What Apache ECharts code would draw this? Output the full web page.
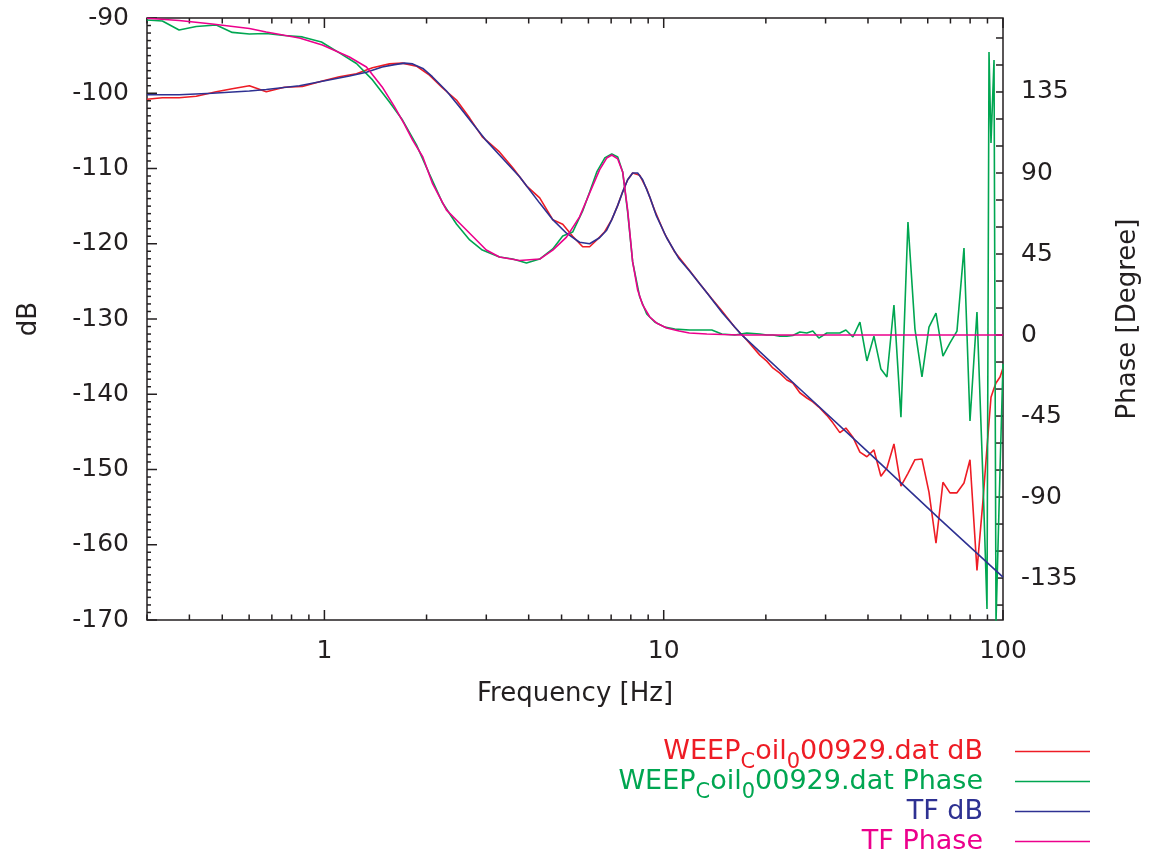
<!DOCTYPE html>
<html>
<head>
<meta charset="utf-8">
<script src="https://cdn.jsdelivr.net/npm/echarts@6/dist/echarts.min.js"></script>
<style>html,body{margin:0;padding:0;background:#fff}#c{width:1149px;height:856px}</style>
</head>
<body>
<div id="c"></div>
<script>
// ---- data ----
const measFreq = [0.3,0.333,0.373,0.419,0.48,0.535,0.601,0.674,0.762,0.861,
  0.98,1.107,1.243,1.386,1.555,1.699,1.868,2.04,2.23,2.45,
  2.68,2.92,3.28,3.59,3.94,4.31,4.71,5.04,5.39,5.77,
  6.05,6.35,6.7,7.03,7.32,7.57,7.83,8.1,8.5,8.91,
  9.41,10.07,10.78,11.93,12.77,13.86,14.83,16.2,17.57,19.2,
  20.13,20.97,21.99,23.07,24.02,25.19,26.42,27.51,28.66,30.26,
  31.52,33.05,34.43,36.11,37.87,39.71,41.65,43.67,45.49,47.71,
  50.03,52.47,55.02,57.7,60.51,63.46,66.53,69.78,73.17,76.74,
  79.93,83.81,87.3,89.71,90.94,92.18,94.09,95.37,98.0,100];
const measDb = [-100.8,-100.6,-100.6,-100.4,-99.8,-99.4,-99.0,-99.8,-99.2,-99.1,
  -98.4,-97.8,-97.4,-96.6,-96.1,-96.0,-96.4,-97.6,-99.3,-100.9,
  -103.3,-105.8,-107.8,-109.9,-112.3,-113.9,-116.8,-117.4,-119.0,-120.4,
  -120.4,-119.5,-118.4,-116.8,-114.9,-113.1,-111.5,-110.6,-110.9,-112.7,
  -115.6,-118.7,-121.1,-123.6,-125.3,-127.3,-128.9,-131.1,-132.8,-134.8,
  -135.6,-136.5,-137.2,-138.1,-138.5,-139.8,-140.5,-141.0,-141.7,-142.8,
  -143.8,-145.1,-144.5,-145.7,-147.7,-148.3,-147.4,-150.9,-149.8,-146.6,
  -152.2,-150.5,-148.7,-148.6,-153.0,-159.8,-151.7,-153.1,-153.1,-151.8,
  -148.7,-163.4,-154.1,-147.1,-143.7,-140.4,-139.2,-138.5,-137.7,-136.5];
const measPhase = [175.0,174.4,169.4,171.4,172.2,168.1,167.2,167.5,166.4,165.6,
  162.8,156.7,150.8,141.7,129.4,119.4,105.6,89.4,73.3,61.7,
  52.8,47.2,43.3,42.2,40.0,42.2,47.8,55.0,57.2,68.9,
  79.4,90.6,98.3,100.6,98.9,90.6,68.3,40.6,21.1,11.7,
  7.2,4.4,3.3,2.8,2.8,2.8,0.6,0.0,1.1,0.6,
  0.0,0.0,-0.6,-0.6,-0.3,1.7,1.1,2.2,-1.7,1.1,
  1.1,1.1,2.8,-1.1,7.2,-14.4,-0.6,-18.9,-23.3,16.7,
  -45.6,62.8,3.3,-23.3,4.4,12.2,-11.7,-4.4,2.2,48.3,
  -47.8,12.8,-80.6,-152.2,157.2,106.7,152.8,-159.4,-75.0,-16.1];

const tfFreq = [0.3,0.373,0.467,0.601,0.674,0.844,0.986,1.185,1.33,1.48,
  1.61,1.72,1.82,1.95,2.08,2.29,2.5,2.73,3.0,3.28,
  3.76,4.31,4.71,5.17,5.65,6.05,6.47,6.79,7.03,7.32,
  7.57,7.83,8.1,8.38,8.67,9.1,9.52,10.2,11.1,11.9,
  13.4,14.9,16.8,25.2,40.5,65.1,100];
const tfDb = [-100.2,-100.2,-100.0,-99.7,-99.5,-99.0,-98.4,-97.7,-97.2,-96.5,
  -96.2,-96.0,-96.1,-96.7,-97.8,-99.7,-101.8,-104.0,-106.3,-108.2,
  -111.1,-114.6,-116.8,-118.6,-119.8,-120.0,-119.2,-118.2,-116.8,-114.9,
  -113.1,-111.5,-110.6,-110.6,-111.5,-113.8,-116.3,-119.2,-122.0,-123.6,
  -126.5,-129.2,-131.9,-139.3,-147.9,-156.6,-164.3];
const tfPhase = [176.0,174.7,172.8,170.3,168.3,165.0,161.1,154.4,148.9,137.8,
  126.7,117.2,108.3,98.9,84.4,69.4,62.2,55.0,47.2,43.3,
  41.4,42.2,47.2,54.4,65.6,78.9,91.7,98.3,100.0,97.8,
  90.6,69.4,40.6,25.0,16.7,10.0,6.7,3.9,2.2,1.1,
  0.6,0.3,0.0,0.0,0.0,0.0,0.0];

const seriesNames = ['WEEP_Coil_000929.dat dB','WEEP_Coil_000929.dat Phase','TF dB','TF Phase'];
const seriesColors = ['#ee1c25','#00a651','#2e3192','#ec008c'];

const xMajorTicks = [1,10,100];
const xMinorTicks = [0.3,0.4,0.5,0.6,0.7,0.8,0.9,2,3,4,5,6,7,8,9,20,30,40,50,60,70,80,90];
const xTickLabels = [1,10,100];
const dbMajorTicks = [-170,-160,-150,-140,-130,-120,-110,-100,-90];
const phaseTicks = [-150,-135,-120,-105,-90,-75,-60,-45,-30,-15,0,15,30,45,60,75,90,105,120,135,150,165];
const phaseTickLabels = [-135,-90,-45,0,45,90,135];

// ---- chart ----
const INK = '#231f20';
const FONT = 'DejaVu Sans';
const X_MIN = 0.3, X_MAX = 100;
const DB_MIN = -170, DB_MAX = -90;
const PH_MIN = -158.3, PH_MAX = 176.1;
const pairs = (xs, ys) => xs.map((x, i) => [x, ys[i]]);

// one-dB minor ticks between the labelled ones
const dbMinorTicks = [];
for (let v = DB_MIN; v <= DB_MAX; v++) if (dbMajorTicks.indexOf(v) < 0) dbMinorTicks.push(v);

const SUB = { fontSize: 21, fontFamily: FONT, lineHeight: 30, padding: [22, 0, 0, 0] };
const rich = {};
seriesColors.forEach((c, i) => {
  rich['t' + i] = { color: c, fontSize: 27, fontFamily: FONT, lineHeight: 30 };
  rich['s' + i] = Object.assign({ color: c }, SUB);
  rich['g' + i] = Object.assign({ color: c, width: 27 }, SUB);
});
function legendFmt(name) {
  const i = seriesNames.indexOf(name);
  const parts = name.split('_');
  let out = '{t' + i + '|' + parts[0] + '}';
  for (let k = 1; k < parts.length; k++) {
    out += '{s' + i + '|' + parts[k].charAt(0) + '}';
    if (parts[k].length > 1) out += '{t' + i + '|' + parts[k].slice(1) + '}';
  }
  return out + '{g' + i + '| }';
}

// gnuplot-style inner ticks, placed through the axes' own scales
const TICK_STYLE = { stroke: INK, lineWidth: 1.5 };
const seg = (x1, y1, x2, y2) => ({ type: 'line', shape: { x1, y1, x2, y2 }, style: TICK_STYLE, silent: true });
function xTickItem(params, api) {
  const x = api.value(0), len = api.value(2);
  const b = api.coord([x, DB_MIN]), t = api.coord([x, DB_MAX]);
  return { type: 'group', children: [seg(b[0], b[1], b[0], b[1] - len), seg(t[0], t[1], t[0], t[1] + len)] };
}
function leftTickItem(params, api) {
  const len = api.value(2);
  const p = api.coord([X_MIN, api.value(1)]);
  return seg(p[0], p[1], p[0] + len, p[1]);
}
function rightTickItem(params, api) {
  const len = api.value(2);
  const p = api.coord([X_MAX, api.value(1)]);
  return seg(p[0] - len, p[1], p[0], p[1]);
}
const tickSeries = (name, yIdx, data, fn) => ({
  name: name, type: 'custom', xAxisIndex: 0, yAxisIndex: yIdx, clip: false, silent: true, z: 3,
  renderItem: fn, data: data, tooltip: { show: false }
});

const chart = echarts.init(document.getElementById('c'), null, { renderer: 'canvas' });
chart.setOption({
  animation: false,
  backgroundColor: '#ffffff',
  grid: { left: 147, right: 146, top: 18, bottom: 236, show: true, borderColor: INK, borderWidth: 1.5, backgroundColor: 'transparent' },
  xAxis: [{
    type: 'log', logBase: 10, min: X_MIN, max: X_MAX, position: 'bottom',
    axisLine: { show: false, onZero: false }, splitLine: { show: false },
    axisTick: { show: false },
    axisLabel: { show: true, customValues: xTickLabels, margin: 19, fontSize: 25, fontFamily: FONT, color: INK },
    name: 'Frequency [Hz]', nameLocation: 'middle', nameGap: 61,
    nameTextStyle: { fontSize: 26, fontFamily: FONT, color: INK }
  }],
  yAxis: [
    {
      type: 'value', min: DB_MIN, max: DB_MAX, interval: 10, position: 'left',
      axisLine: { show: false, onZero: false }, splitLine: { show: false },
      axisTick: { show: false },
      axisLabel: { margin: 18, fontSize: 25, fontFamily: FONT, color: INK },
      name: 'dB', nameLocation: 'middle', nameRotate: 90, nameGap: 105,
      nameTextStyle: { fontSize: 26, fontFamily: FONT, color: INK }
    },
    {
      type: 'value', min: PH_MIN, max: PH_MAX, position: 'right',
      axisLine: { show: false, onZero: false }, splitLine: { show: false },
      axisTick: { show: false },
      axisLabel: { margin: 18, fontSize: 25, fontFamily: FONT, color: INK, customValues: phaseTickLabels },
      name: 'Phase [Degree]', nameLocation: 'middle', nameRotate: 90, nameGap: 112,
      nameTextStyle: { fontSize: 26, fontFamily: FONT, color: INK }
    }
  ],
  legend: {
    orient: 'vertical', right: 59, top: 730, height: 300, align: 'right',
    icon: 'rect', itemWidth: 75, itemHeight: 1.6, itemGap: -13, padding: 0,
    data: seriesNames, formatter: legendFmt,
    textStyle: { fontFamily: FONT, fontSize: 27, rich: rich },
    selectedMode: false
  },
  series: [
    { name: seriesNames[0], type: 'line', xAxisIndex: 0, yAxisIndex: 0, data: pairs(measFreq, measDb) },
    { name: seriesNames[1], type: 'line', xAxisIndex: 0, yAxisIndex: 1, data: pairs(measFreq, measPhase) },
    { name: seriesNames[2], type: 'line', xAxisIndex: 0, yAxisIndex: 0, data: pairs(tfFreq, tfDb) },
    { name: seriesNames[3], type: 'line', xAxisIndex: 0, yAxisIndex: 1, data: pairs(tfFreq, tfPhase) }
  ].map((s, i) => Object.assign(s, {
    symbol: 'none', showSymbol: false, smooth: false, clip: true,
    color: seriesColors[i],
    lineStyle: { color: seriesColors[i], width: 1.6 }
  })).concat([
    tickSeries('xTicks', 0,
      xMajorTicks.map(v => [v, DB_MIN, 10]).concat(xMinorTicks.map(v => [v, DB_MIN, 5.5])), xTickItem),
    tickSeries('dbTicks', 0,
      dbMajorTicks.map(v => [X_MIN, v, 10]).concat(dbMinorTicks.map(v => [X_MIN, v, 4])), leftTickItem),
    tickSeries('phaseTicks', 1, phaseTicks.map(v => [X_MAX, v, 7]), rightTickItem)
  ])
});
</script>
</body>
</html>
